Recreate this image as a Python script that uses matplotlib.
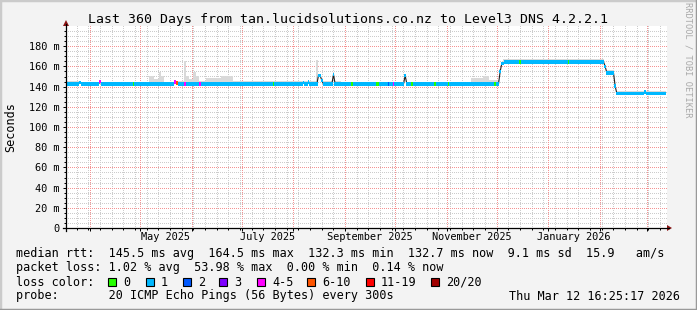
import matplotlib
matplotlib.use('Agg')
import matplotlib.pyplot as plt
import numpy as np
from datetime import datetime, timedelta
from matplotlib.patches import Rectangle, Polygon
from matplotlib.lines import Line2D

W, H = 697, 310

# ---------------- data ----------------
title = "Last 360 Days from tan.lucidsolutions.co.nz to Level3 DNS 4.2.2.1"
end_time = datetime(2026, 3, 12, 16, 25, 17)
span_days = 360
start_time = end_time - timedelta(days=span_days)

# median RTT (ms) as step segments: first day of segment -> value
med_start = [0, 8, 9, 20, 21, 65, 66, 67, 142, 143, 145, 146, 151, 153, 154,
             160, 161, 203, 204, 260, 261, 263, 323, 324, 329, 330, 347, 348]
med_value = [142.8, 144.0, 142.6, 145.0, 142.5, 144.5, 143.5, 142.5, 144.0, 142.5,
             144.5, 142.5, 151.0, 146.0, 142.5, 152.0, 142.5, 151.0, 142.5, 155.0,
             163.0, 164.5, 160.0, 153.6, 140.5, 133.2, 134.8, 133.2]

# loss class per day (default '1'); exceptions
loss_day = [20, 40, 65, 66, 71, 80, 124, 171, 186, 187, 193, 196, 207, 221, 229,
            257, 272, 301]
loss_class = ['4-5', '0', '4-5', '6-10', '4-5', '4-5', '0', '0', '0', '0', '2',
              '4-5', '0', '0', '0', '0', '0', '0']

# smoke (ping spread) upper bound, step segments
smoke_start = [0, 8, 50, 53, 56, 57, 59, 65, 71, 72, 74, 76, 78, 80, 84, 93, 100,
               150, 151, 153, 165, 243, 250, 254, 260, 262, 323, 329]
smoke_top = [145.5, 144.5, 150.0, 148.0, 154.0, 150.0, 144.5, 146.0, 165.0, 150.0,
             148.0, 154.0, 150.0, 146.0, 148.5, 150.0, 145.5, 166.0, 152.0, 145.5,
             144.8, 149.0, 150.0, 146.5, 157.0, 167.5, 156.5, 135.5]

loss_names = ['0', '1', '2', '3', '4-5', '6-10', '11-19', '20/20']
loss_colors = ['#26ff00', '#00b8ff', '#0059ff', '#7e00ff', '#ff00ff', '#ff5500',
               '#ff0000', '#a10000']

y_ticks = [0, 20, 40, 60, 80, 100, 120, 140, 160, 180]
y_tick_labels = ['0', '20 m', '40 m', '60 m', '80 m', '100 m', '120 m', '140 m',
                 '160 m', '180 m']
x_labels = ['May 2025', 'July 2025', 'September 2025', 'November 2025', 'January 2026']
x_label_months = [(2025, 5), (2025, 7), (2025, 9), (2025, 11), (2026, 1)]

legend_line1 = "median rtt:  145.5 ms avg  164.5 ms max  132.3 ms min  132.7 ms now  9.1 ms sd  15.9   am/s"
legend_line2 = "packet loss: 1.02 % avg  53.98 % max  0.00 % min  0.14 % now"
legend_line4 = "probe:       20 ICMP Echo Pings (56 Bytes) every 300s"
stamp = "Thu Mar 12 16:25:17 2026"

# ---------------- geometry ----------------
PL, PR, PT, PB = 66, 666, 26, 228   # plot area pixels
YMAX = 200.0

def fx(px):
    return px / W

def fy(py):
    return 1 - py / H

def day_of(dt):
    return (dt - start_time).total_seconds() / 86400.0

def day_px(d):
    return PL + d * (PR - PL) / span_days

def val_py(v):
    return PB - v * (PB - PT) / YMAX

mono = 'DejaVu Sans Mono'
BG = '#f3f3f3'

fig = plt.figure(figsize=(W / 100, H / 100), dpi=100, facecolor=BG)
ax = fig.add_axes([fx(PL), fy(PB), (PR - PL) / W, (PB - PT) / H])
ax.set_facecolor('none')
ax.set_xlim(0, span_days)
ax.set_ylim(0, YMAX)
for s in ax.spines.values():
    s.set_visible(False)

# grid positions
month_starts = []
y, m = 2025, 4
while True:
    d = datetime(y, m, 1)
    if d > end_time:
        break
    month_starts.append(day_of(d))
    m += 1
    if m > 12:
        m = 1
        y += 1
mondays = []
d = datetime(2025, 3, 24)
while d < end_time:
    mondays.append(day_of(d))
    d += timedelta(days=7)
minor_vals = [v for v in range(5, 200, 5) if v % 20 != 0]

# canvas + dotted grid as a pixel image (crisp 1px dots like rrdtool)
img = np.zeros((H, W, 4))
img[PT:PB + 1, PL:PR + 1] = [1, 1, 1, 1]
minor_c = [0.80, 0.80, 0.80, 1]
major_c = [0.96, 0.58, 0.58, 1]
for xv in mondays:
    c = int(round(day_px(xv)))
    img[PT:PB:2, c] = minor_c
for v in minor_vals:
    r = int(round(val_py(v)))
    img[r, PL:PR + 1:2] = minor_c
for xv in month_starts:
    c = int(round(day_px(xv)))
    img[PT:PB:2, c] = major_c
for v in y_ticks[1:]:
    r = int(round(val_py(v)))
    img[r, PL:PR + 1:2] = major_c
fig.figimage(img, xo=0, yo=0, origin='upper', zorder=-1)

# ticks
ax.set_xticks(month_starts)
ax.set_xticks(mondays, minor=True)
ax.set_yticks(y_ticks)
ax.set_yticks(list(range(5, 200, 5)), minor=True)
ax.set_yticklabels(y_tick_labels, fontfamily=mono, fontsize=7.4)
ax.tick_params(axis='x', which='major', direction='out', length=2.2, width=0.72,
               labelbottom=False, color='black')
ax.tick_params(axis='x', which='minor', direction='out', length=1.2, width=0.72,
               color='black')
ax.tick_params(axis='y', which='major', direction='out', length=2.2, width=0.72,
               pad=2.2, color='black')
ax.tick_params(axis='y', which='minor', direction='out', length=1.2, width=0.72,
               color='black')

# per-day series
days = np.arange(span_days)
med_idx = np.searchsorted(med_start, days, side='right') - 1
med = np.array(med_value)[med_idx]
smk_idx = np.searchsorted(smoke_start, days, side='right') - 1
smk = np.array(smoke_top)[smk_idx]
cls = np.full(span_days, '1', dtype=object)
for dd, cc in zip(loss_day, loss_class):
    cls[dd] = cc
colmap = dict(zip(loss_names, loss_colors))

# smoke
ax.bar(days, np.maximum(smk - med, 0), bottom=med, width=1.0, align='edge',
       color='#d9d9d9', linewidth=0, zorder=2)
# median line (dark)
ax.plot(days + 0.5, med, color='#202020', lw=0.8, zorder=3)
# loss-coloured band
swidth = 1.8
ax.bar(days, 2 * swidth, bottom=med - swidth, width=1.0, align='edge',
       color=[colmap[c] for c in cls], linewidth=0, zorder=4)

# axes lines with arrows
fig.add_artist(Line2D([fx(PL - 3), fx(669)], [fy(PB), fy(PB)], color='black', lw=0.9))
fig.add_artist(Line2D([fx(PL), fx(PL)], [fy(PB + 3), fy(24)], color='black', lw=0.9))
fig.add_artist(Polygon([[fx(667), fy(PB - 3)], [fx(667), fy(PB + 3)], [fx(672), fy(PB)]],
                       closed=True, color='#8b1515', lw=0))
fig.add_artist(Polygon([[fx(PL - 3), fy(26)], [fx(PL + 3), fy(26)], [fx(PL), fy(20)]],
                       closed=True, color='#8b1515', lw=0))

# x labels (centred on month middle)
for lab, (yy, mm) in zip(x_labels, x_label_months):
    a = datetime(yy, mm, 1)
    b = datetime(yy + (mm // 12), mm % 12 + 1, 1)
    mid = (day_of(a) + day_of(b)) / 2
    fig.text(fx(day_px(mid)), fy(237.5), lab, ha='center', va='center',
             fontfamily=mono, fontsize=7.4)

# title and axis label
fig.text(fx(348), fy(19), title, ha='center', va='center', fontfamily=mono, fontsize=9.5)
fig.text(fx(10.5), fy(127), 'Seconds', rotation=90, ha='center', va='center',
         fontfamily=mono, fontsize=8.5)
fig.text(fx(688), fy(60), 'RRDTOOL / TOBI OETIKER', rotation=270, ha='center',
         va='center', fontfamily=mono, fontsize=6.2, color='#a8a8a8')

# legend
fig.text(fx(16), fy(254), legend_line1, ha='left', va='center', fontfamily=mono, fontsize=8.5)
fig.text(fx(16), fy(268), legend_line2, ha='left', va='center', fontfamily=mono, fontsize=8.5)
fig.text(fx(16), fy(282), 'loss color:', ha='left', va='center', fontfamily=mono, fontsize=8.5)
box_x = [108, 146, 183, 219, 257, 307, 366, 431]
for bx, nm, col in zip(box_x, loss_names, loss_colors):
    fig.add_artist(Rectangle((fx(bx), fy(285.8)), 7.5 / W, 7.5 / H, transform=fig.transFigure,
                             facecolor=col, edgecolor='black', lw=0.8))
    fig.text(fx(bx + 15), fy(282), nm, ha='left', va='center', fontfamily=mono, fontsize=8.5)
fig.text(fx(16), fy(296), legend_line4, ha='left', va='center', fontfamily=mono, fontsize=8.5)
fig.text(fx(680), fy(296), stamp, ha='right', va='center', fontfamily=mono, fontsize=8.5)

# frame shading
fig.add_artist(Line2D([0, 0], [0, 1], color='#cbcbcb', lw=2.5, transform=fig.transFigure))
fig.add_artist(Line2D([0, 1], [1, 1], color='#cbcbcb', lw=2.5, transform=fig.transFigure))
fig.add_artist(Line2D([1, 1], [0, 1], color='#999999', lw=2.5, transform=fig.transFigure))
fig.add_artist(Line2D([0, 1], [0, 0], color='#999999', lw=2.5, transform=fig.transFigure))

fig.savefig('out.png', dpi=100, facecolor=BG)
